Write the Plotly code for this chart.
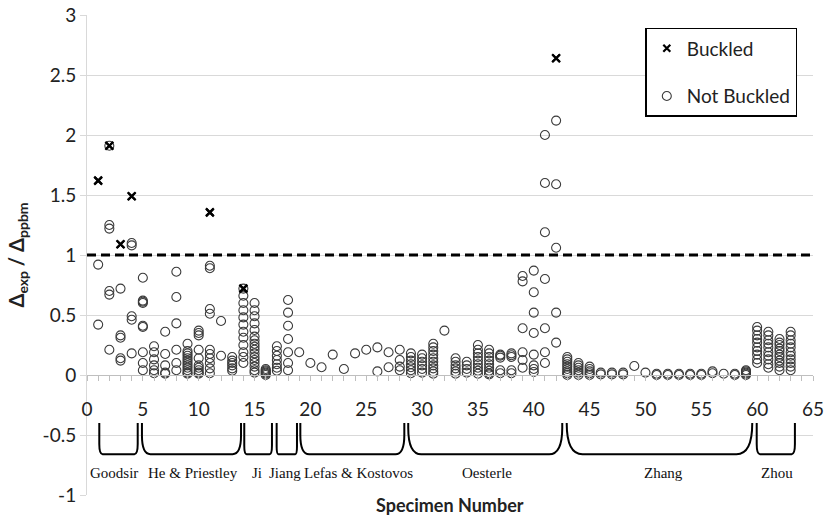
import plotly.graph_objects as go

# ---------------- data ----------------
buckled_specimen = [1, 2, 3, 4, 11, 14, 42]
buckled_ratio = [1.62, 1.91, 1.09, 1.49, 1.355, 0.72, 2.64]

# not-buckled ratios, per specimen, grouped by research programme
goodsir = {
    1: [0.92, 0.42],
    2: [1.91, 1.25, 1.22, 0.70, 0.67, 0.21],
    3: [0.72, 0.33, 0.31, 0.14, 0.12],
    4: [1.10, 1.08, 0.49, 0.46, 0.18],
}
he_priestley = {
    5: [0.81, 0.62, 0.61, 0.60, 0.41, 0.40, 0.19, 0.10, 0.04],
    6: [0.24, 0.19, 0.13, 0.08, 0.04, 0.015],
    7: [0.36, 0.175, 0.08, 0.02, 0.01],
    8: [0.86, 0.65, 0.43, 0.21, 0.10, 0.04],
    9: [0.26, 0.20, 0.18, 0.16, 0.14, 0.12, 0.10, 0.08, 0.06, 0.04, 0.02, 0.01],
    10: [0.37, 0.35, 0.33, 0.21, 0.14, 0.08, 0.06, 0.04, 0.02, 0.01],
    11: [0.91, 0.89, 0.55, 0.51, 0.21, 0.175, 0.14, 0.10, 0.055, 0.015],
    12: [0.45, 0.16],
    13: [0.15, 0.12, 0.10, 0.08, 0.055, 0.035],
}
ji = {
    14: [0.72, 0.66, 0.60, 0.54, 0.48, 0.42, 0.36, 0.31, 0.25, 0.19, 0.15, 0.10],
    15: [0.60, 0.54, 0.49, 0.43, 0.375, 0.32, 0.29, 0.26, 0.235, 0.21, 0.18,
         0.15, 0.125, 0.10, 0.07, 0.04, 0.02],
    16: [0.05, 0.04, 0.03, 0.02, 0.01, 0.0],
}
jiang = {
    17: [0.24, 0.20, 0.16, 0.125, 0.09, 0.06, 0.035],
    18: [0.625, 0.52, 0.41, 0.30, 0.19, 0.10, 0.04],
}
lefas_kostovos = {
    19: [0.19], 20: [0.10], 21: [0.065], 22: [0.17], 23: [0.05],
    24: [0.18], 25: [0.21], 26: [0.23, 0.03], 27: [0.19, 0.065],
    28: [0.21, 0.125, 0.07, 0.04],
}
oesterle = {
    29: [0.18, 0.15, 0.12, 0.09, 0.065, 0.04, 0.015],
    30: [0.17, 0.14, 0.11, 0.08, 0.05, 0.02],
    31: [0.26, 0.23, 0.20, 0.17, 0.14, 0.11, 0.08, 0.055, 0.03, 0.01],
    32: [0.37],
    33: [0.14, 0.11, 0.08, 0.055, 0.03, 0.01],
    34: [0.11, 0.08, 0.05, 0.02],
    35: [0.25, 0.21, 0.18, 0.15, 0.12, 0.09, 0.06, 0.035, 0.01],
    36: [0.21, 0.18, 0.15, 0.12, 0.09, 0.06, 0.035, 0.015, 0.005],
    37: [0.17, 0.16, 0.145, 0.04, 0.015],
    38: [0.18, 0.165, 0.15, 0.04, 0.015],
    39: [0.825, 0.78, 0.39, 0.19, 0.125, 0.06],
    40: [0.87, 0.69, 0.52, 0.35, 0.17, 0.08, 0.05, 0.025],
    41: [2.00, 1.60, 1.19, 0.80, 0.39, 0.19, 0.10],
    42: [2.12, 1.59, 1.06, 0.52, 0.27],
}
zhang = {
    43: [0.15, 0.13, 0.11, 0.09, 0.07, 0.05, 0.03, 0.015, 0.0],
    44: [0.10, 0.08, 0.06, 0.04, 0.02, 0.0],
    45: [0.07, 0.05, 0.03, 0.015, 0.0],
    46: [0.02, 0.005], 47: [0.02, 0.005], 48: [0.02, 0.005],
    49: [0.075], 50: [0.02],
    51: [0.01, 0.0], 52: [0.01, 0.0], 53: [0.01, 0.0], 54: [0.01, 0.0],
    55: [0.01, 0.0], 56: [0.03, 0.015], 57: [0.01], 58: [0.01, 0.0],
    59: [0.04, 0.03, 0.02, 0.01, 0.0],
}
zhou = {
    60: [0.40, 0.37, 0.33, 0.30, 0.27, 0.23, 0.20, 0.17, 0.13, 0.10],
    61: [0.36, 0.33, 0.29, 0.26, 0.23, 0.19, 0.16, 0.13, 0.09, 0.06],
    62: [0.30, 0.27, 0.25, 0.22, 0.20, 0.17, 0.15, 0.12, 0.10, 0.07, 0.04],
    63: [0.36, 0.33, 0.29, 0.26, 0.23, 0.19, 0.16, 0.13, 0.10, 0.07, 0.04],
}

group_names = ["Goodsir", "He &amp; Priestley", "Ji", "Jiang",
               "Lefas &amp; Kostovos", "Oesterle", "Zhang", "Zhou"]
group_start = [1.1, 4.92, 14.08, 16.98, 19.10, 28.76, 42.95, 59.96]
group_end = [4.54, 13.79, 16.56, 18.80, 28.41, 42.55, 59.56, 63.38]
group_label_x = [2.42, 9.49, 15.2, 17.7, 24.35, 35.8, 51.6, 61.8]

threshold = 1.0
x_tick_vals = list(range(0, 66, 5))
y_tick_vals = [-1, -0.5, 0, 0.5, 1, 1.5, 2, 2.5, 3]
y_tick_text = ["-1", "-0.5", "0", "0.5", "1", "1.5", "2", "2.5", "3"]

# ---------------- build ----------------
nb_x, nb_y = [], []
for grp in [goodsir, he_priestley, ji, jiang, lefas_kostovos, oesterle, zhang, zhou]:
    for spec, vals in grp.items():
        for v in vals:
            nb_x.append(spec)
            nb_y.append(v)

FONT = "Lato"
fig = go.Figure()

fig.add_trace(go.Scatter(
    x=buckled_specimen, y=buckled_ratio, mode="markers", name="Buckled",
    marker=dict(symbol="x-thin", size=7, color="black",
                line=dict(width=2.2, color="black")),
    legendgroup="a",
))
fig.add_trace(go.Scatter(
    x=nb_x, y=nb_y, mode="markers", name="Not Buckled",
    marker=dict(symbol="circle-open", size=9, color="#3a3a3a",
                line=dict(width=1.1, color="#3a3a3a")),
    legendgroup="b",
))
# draw buckled again on top (no legend)
fig.add_trace(go.Scatter(
    x=buckled_specimen, y=buckled_ratio, mode="markers", showlegend=False,
    marker=dict(symbol="x-thin", size=8, color="black",
                line=dict(width=2.2, color="black")),
    hoverinfo="skip",
))

shapes = [dict(type="line", xref="paper", x0=0, x1=1, yref="y",
               y0=threshold, y1=threshold,
               line=dict(color="black", width=3, dash="9px,5px"))]

top, bot = -0.40, -0.66
for x0, x1 in zip(group_start, group_end):
    w = x1 - x0
    rx = 0.085 * w
    ry = 0.04 + 0.013 * w
    path = (f"M {x0},{top} L {x0},{bot + ry} Q {x0},{bot} {x0 + rx},{bot} "
            f"L {x1 - rx},{bot} Q {x1},{bot} {x1},{bot + ry} L {x1},{top}")
    shapes.append(dict(type="path", xref="x", yref="y", path=path,
                       line=dict(color="black", width=2)))

annotations = []
for name, lx in zip(group_names, group_label_x):
    annotations.append(dict(x=lx, y=-0.82, xref="x", yref="y", text=name,
                            showarrow=False,
                            font=dict(family="Liberation Serif", size=15,
                                      color="#111")))
annotations.append(dict(x=0.5, y=-0.021, xref="paper", yref="paper",
                        text="<b>Specimen Number</b>", showarrow=False,
                        yanchor="middle",
                        font=dict(family=FONT, size=18, color="#222")))

fig.update_layout(
    width=826, height=525,
    margin=dict(l=87, r=13, t=15, b=30, autoexpand=False),
    plot_bgcolor="white", paper_bgcolor="white",
    font=dict(family=FONT, size=19, color="#222"),
    shapes=shapes, annotations=annotations,
    legend=dict(x=0.769, y=0.973, xanchor="left", yanchor="top",
                bgcolor="white", bordercolor="black", borderwidth=1.5,
                font=dict(family=FONT, size=19, color="#222"),
                traceorder="grouped", tracegroupgap=20),
    xaxis=dict(range=[0, 65], tickvals=x_tick_vals, anchor="free",
               position=0.25, showgrid=False, zeroline=False,
               showline=True, linecolor="#bfbfbf", linewidth=1,
               ticks="outside", ticklen=5, tickcolor="#bfbfbf",
               minor=dict(dtick=1, ticks="outside", ticklen=5,
                          tickcolor="#bfbfbf", showgrid=False),
               ticklabelstandoff=12, automargin=False,
               tickfont=dict(family=FONT, size=19, color="#222")),
    yaxis=dict(range=[-1, 3], tickvals=y_tick_vals, ticktext=y_tick_text,
               showgrid=True, gridcolor="#d9d9d9", gridwidth=1,
               zeroline=False, showline=True, linecolor="#d9d9d9",
               ticks="outside", ticklen=6, tickcolor="#d9d9d9",
               automargin=False, ticklabeloverflow="allow",
               tickfont=dict(family=FONT, size=19, color="#222"),
               title=dict(text="<b>Δ<sub>exp</sub> / Δ<sub>ppbm</sub></b>",
                          font=dict(family=FONT, size=20, color="#222"),
                          standoff=12)),
)

# remove the browser's default 8px body margin so the figure sits at (0, 0)
fig.write_html("out.html",
               config={"displayModeBar": False},
               post_script="document.body.style.margin='0px';"
                           "document.body.style.overflow='hidden';")
